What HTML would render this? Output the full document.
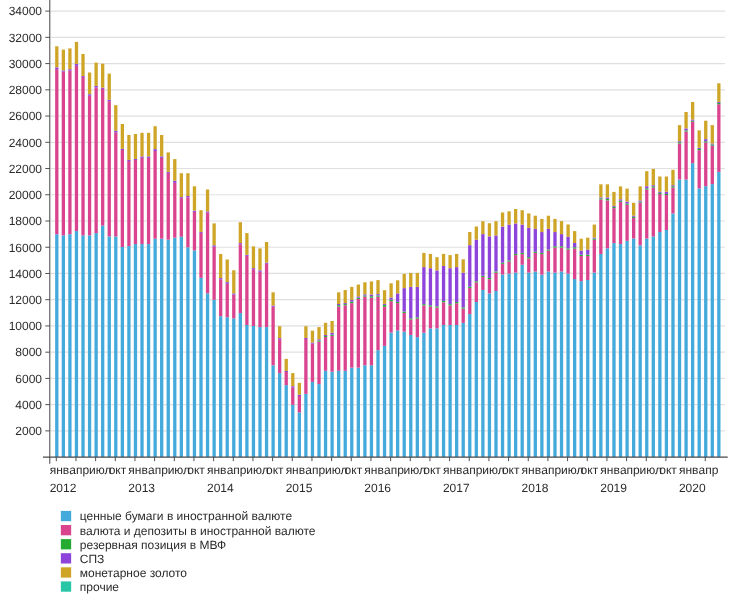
<!DOCTYPE html>
<html lang="ru"><head><meta charset="utf-8"><title>chart</title>
<style>
html,body{margin:0;padding:0;background:#fff;}
body{width:740px;height:604px;overflow:hidden;font-family:"Liberation Sans",sans-serif;}
svg{display:block;}
text{text-rendering:geometricPrecision;font-family:"Liberation Sans",sans-serif;font-size:12px;fill:#2b2b2b;}
</style></head><body>
<svg width="740" height="604" viewBox="0 0 740 604">
<rect width="740" height="604" fill="#fff"/>

<g stroke="#e0e0e0" stroke-width="1.2">
<line x1="50.5" x2="725" y1="430.88" y2="430.88"/>
<line x1="50.5" x2="725" y1="404.65" y2="404.65"/>
<line x1="50.5" x2="725" y1="378.41" y2="378.41"/>
<line x1="50.5" x2="725" y1="352.18" y2="352.18"/>
<line x1="50.5" x2="725" y1="325.94" y2="325.94"/>
<line x1="50.5" x2="725" y1="299.70" y2="299.70"/>
<line x1="50.5" x2="725" y1="273.47" y2="273.47"/>
<line x1="50.5" x2="725" y1="247.23" y2="247.23"/>
<line x1="50.5" x2="725" y1="221.00" y2="221.00"/>
<line x1="50.5" x2="725" y1="194.76" y2="194.76"/>
<line x1="50.5" x2="725" y1="168.52" y2="168.52"/>
<line x1="50.5" x2="725" y1="142.29" y2="142.29"/>
<line x1="50.5" x2="725" y1="116.05" y2="116.05"/>
<line x1="50.5" x2="725" y1="89.82" y2="89.82"/>
<line x1="50.5" x2="725" y1="63.58" y2="63.58"/>
<line x1="50.5" x2="725" y1="37.34" y2="37.34"/>
<line x1="50.5" x2="725" y1="11.11" y2="11.11"/>
</g>
<rect x="55.15" y="234.20" width="3.30" height="222.90" fill="#44aadb"/>
<rect x="55.15" y="69.10" width="3.30" height="165.10" fill="#da448e"/>
<rect x="55.15" y="67.35" width="3.30" height="1.75" fill="#8e44db"/>
<rect x="55.15" y="46.30" width="3.30" height="21.05" fill="#cfa528"/>
<rect x="61.70" y="235.40" width="3.30" height="221.70" fill="#44aadb"/>
<rect x="61.70" y="71.70" width="3.30" height="163.70" fill="#da448e"/>
<rect x="61.70" y="70.40" width="3.30" height="1.30" fill="#8e44db"/>
<rect x="61.70" y="49.60" width="3.30" height="20.80" fill="#cfa528"/>
<rect x="68.26" y="234.20" width="3.30" height="222.90" fill="#44aadb"/>
<rect x="68.26" y="70.70" width="3.30" height="163.50" fill="#da448e"/>
<rect x="68.26" y="69.20" width="3.30" height="1.50" fill="#8e44db"/>
<rect x="68.26" y="48.40" width="3.30" height="20.80" fill="#cfa528"/>
<rect x="74.81" y="231.10" width="3.30" height="226.00" fill="#44aadb"/>
<rect x="74.81" y="65.80" width="3.30" height="165.30" fill="#da448e"/>
<rect x="74.81" y="63.90" width="3.30" height="1.90" fill="#8e44db"/>
<rect x="74.81" y="41.90" width="3.30" height="22.00" fill="#cfa528"/>
<rect x="81.37" y="235.40" width="3.30" height="221.70" fill="#44aadb"/>
<rect x="81.37" y="76.90" width="3.30" height="158.50" fill="#da448e"/>
<rect x="81.37" y="76.00" width="3.30" height="0.90" fill="#8e44db"/>
<rect x="81.37" y="54.00" width="3.30" height="22.00" fill="#cfa528"/>
<rect x="87.92" y="235.40" width="3.30" height="221.70" fill="#44aadb"/>
<rect x="87.92" y="95.80" width="3.30" height="139.60" fill="#da448e"/>
<rect x="87.92" y="94.20" width="3.30" height="1.60" fill="#8e44db"/>
<rect x="87.92" y="72.50" width="3.30" height="21.70" fill="#cfa528"/>
<rect x="94.48" y="233.10" width="3.30" height="224.00" fill="#44aadb"/>
<rect x="94.48" y="87.60" width="3.30" height="145.50" fill="#da448e"/>
<rect x="94.48" y="85.90" width="3.30" height="1.70" fill="#8e44db"/>
<rect x="94.48" y="62.60" width="3.30" height="23.30" fill="#cfa528"/>
<rect x="101.03" y="225.60" width="3.30" height="231.50" fill="#44aadb"/>
<rect x="101.03" y="88.90" width="3.30" height="136.70" fill="#da448e"/>
<rect x="101.03" y="87.70" width="3.30" height="1.20" fill="#8e44db"/>
<rect x="101.03" y="63.70" width="3.30" height="24.00" fill="#cfa528"/>
<rect x="107.59" y="236.40" width="3.30" height="220.70" fill="#44aadb"/>
<rect x="107.59" y="101.20" width="3.30" height="135.20" fill="#da448e"/>
<rect x="107.59" y="99.80" width="3.30" height="1.40" fill="#8e44db"/>
<rect x="107.59" y="73.60" width="3.30" height="26.20" fill="#cfa528"/>
<rect x="114.14" y="236.40" width="3.30" height="220.70" fill="#44aadb"/>
<rect x="114.14" y="132.60" width="3.30" height="103.80" fill="#da448e"/>
<rect x="114.14" y="130.70" width="3.30" height="1.90" fill="#8e44db"/>
<rect x="114.14" y="105.20" width="3.30" height="25.50" fill="#cfa528"/>
<rect x="120.70" y="247.00" width="3.30" height="210.10" fill="#44aadb"/>
<rect x="120.70" y="150.00" width="3.30" height="97.00" fill="#da448e"/>
<rect x="120.70" y="148.90" width="3.30" height="1.10" fill="#8e44db"/>
<rect x="120.70" y="124.00" width="3.30" height="24.90" fill="#cfa528"/>
<rect x="127.25" y="246.10" width="3.30" height="211.00" fill="#44aadb"/>
<rect x="127.25" y="161.00" width="3.30" height="85.10" fill="#da448e"/>
<rect x="127.25" y="159.90" width="3.30" height="1.10" fill="#8e44db"/>
<rect x="127.25" y="135.00" width="3.30" height="24.90" fill="#cfa528"/>
<rect x="133.81" y="244.10" width="3.30" height="213.00" fill="#44aadb"/>
<rect x="133.81" y="160.00" width="3.30" height="84.10" fill="#da448e"/>
<rect x="133.81" y="158.90" width="3.30" height="1.10" fill="#8e44db"/>
<rect x="133.81" y="134.00" width="3.30" height="24.90" fill="#cfa528"/>
<rect x="140.36" y="244.10" width="3.30" height="213.00" fill="#44aadb"/>
<rect x="140.36" y="157.90" width="3.30" height="86.20" fill="#da448e"/>
<rect x="140.36" y="156.40" width="3.30" height="1.50" fill="#8e44db"/>
<rect x="140.36" y="132.80" width="3.30" height="23.60" fill="#cfa528"/>
<rect x="146.92" y="244.10" width="3.30" height="213.00" fill="#44aadb"/>
<rect x="146.92" y="157.90" width="3.30" height="86.20" fill="#da448e"/>
<rect x="146.92" y="156.40" width="3.30" height="1.50" fill="#8e44db"/>
<rect x="146.92" y="132.80" width="3.30" height="23.60" fill="#cfa528"/>
<rect x="153.47" y="238.70" width="3.30" height="218.40" fill="#44aadb"/>
<rect x="153.47" y="151.00" width="3.30" height="87.70" fill="#da448e"/>
<rect x="153.47" y="149.10" width="3.30" height="1.90" fill="#8e44db"/>
<rect x="153.47" y="126.20" width="3.30" height="22.90" fill="#cfa528"/>
<rect x="160.03" y="238.70" width="3.30" height="218.40" fill="#44aadb"/>
<rect x="160.03" y="157.90" width="3.30" height="80.80" fill="#da448e"/>
<rect x="160.03" y="156.40" width="3.30" height="1.50" fill="#8e44db"/>
<rect x="160.03" y="135.00" width="3.30" height="21.40" fill="#cfa528"/>
<rect x="166.59" y="239.70" width="3.30" height="217.40" fill="#44aadb"/>
<rect x="166.59" y="172.90" width="3.30" height="66.80" fill="#da448e"/>
<rect x="166.59" y="171.80" width="3.30" height="1.10" fill="#8e44db"/>
<rect x="166.59" y="152.40" width="3.30" height="19.40" fill="#cfa528"/>
<rect x="173.14" y="237.70" width="3.30" height="219.40" fill="#44aadb"/>
<rect x="173.14" y="182.90" width="3.30" height="54.80" fill="#da448e"/>
<rect x="173.14" y="180.80" width="3.30" height="2.10" fill="#8e44db"/>
<rect x="173.14" y="159.10" width="3.30" height="21.70" fill="#cfa528"/>
<rect x="179.69" y="236.70" width="3.30" height="220.40" fill="#44aadb"/>
<rect x="179.69" y="198.20" width="3.30" height="38.50" fill="#da448e"/>
<rect x="179.69" y="197.10" width="3.30" height="1.10" fill="#8e44db"/>
<rect x="179.69" y="173.20" width="3.30" height="23.90" fill="#cfa528"/>
<rect x="186.25" y="247.30" width="3.30" height="209.80" fill="#44aadb"/>
<rect x="186.25" y="197.30" width="3.30" height="50.00" fill="#da448e"/>
<rect x="186.25" y="196.00" width="3.30" height="1.30" fill="#8e44db"/>
<rect x="186.25" y="173.20" width="3.30" height="22.80" fill="#cfa528"/>
<rect x="192.80" y="250.40" width="3.30" height="206.70" fill="#44aadb"/>
<rect x="192.80" y="211.90" width="3.30" height="38.50" fill="#da448e"/>
<rect x="192.80" y="210.60" width="3.30" height="1.30" fill="#8e44db"/>
<rect x="192.80" y="186.30" width="3.30" height="24.30" fill="#cfa528"/>
<rect x="199.36" y="277.90" width="3.30" height="179.20" fill="#44aadb"/>
<rect x="199.36" y="232.90" width="3.30" height="45.00" fill="#da448e"/>
<rect x="199.36" y="231.90" width="3.30" height="1.00" fill="#8e44db"/>
<rect x="199.36" y="210.20" width="3.30" height="21.70" fill="#cfa528"/>
<rect x="205.91" y="293.40" width="3.30" height="163.70" fill="#44aadb"/>
<rect x="205.91" y="212.65" width="3.30" height="80.75" fill="#da448e"/>
<rect x="205.91" y="211.40" width="3.30" height="1.25" fill="#8e44db"/>
<rect x="205.91" y="189.50" width="3.30" height="21.90" fill="#cfa528"/>
<rect x="212.47" y="299.80" width="3.30" height="157.30" fill="#44aadb"/>
<rect x="212.47" y="246.80" width="3.30" height="53.00" fill="#da448e"/>
<rect x="212.47" y="245.30" width="3.30" height="1.50" fill="#8e44db"/>
<rect x="212.47" y="223.40" width="3.30" height="21.90" fill="#cfa528"/>
<rect x="219.03" y="316.20" width="3.30" height="140.90" fill="#44aadb"/>
<rect x="219.03" y="279.30" width="3.30" height="36.90" fill="#da448e"/>
<rect x="219.03" y="278.10" width="3.30" height="1.20" fill="#8e44db"/>
<rect x="219.03" y="254.00" width="3.30" height="24.10" fill="#cfa528"/>
<rect x="225.58" y="317.25" width="3.30" height="139.85" fill="#44aadb"/>
<rect x="225.58" y="283.80" width="3.30" height="33.45" fill="#da448e"/>
<rect x="225.58" y="282.10" width="3.30" height="1.70" fill="#8e44db"/>
<rect x="225.58" y="259.50" width="3.30" height="22.60" fill="#cfa528"/>
<rect x="232.13" y="318.40" width="3.30" height="138.70" fill="#44aadb"/>
<rect x="232.13" y="294.70" width="3.30" height="23.70" fill="#da448e"/>
<rect x="232.13" y="293.40" width="3.30" height="1.30" fill="#8e44db"/>
<rect x="232.13" y="270.30" width="3.30" height="23.10" fill="#cfa528"/>
<rect x="238.69" y="313.10" width="3.30" height="144.00" fill="#44aadb"/>
<rect x="238.69" y="244.30" width="3.30" height="68.80" fill="#da448e"/>
<rect x="238.69" y="243.10" width="3.30" height="1.20" fill="#8e44db"/>
<rect x="238.69" y="222.20" width="3.30" height="20.90" fill="#cfa528"/>
<rect x="245.24" y="325.00" width="3.30" height="132.10" fill="#44aadb"/>
<rect x="245.24" y="255.90" width="3.30" height="69.10" fill="#da448e"/>
<rect x="245.24" y="254.85" width="3.30" height="1.05" fill="#8e44db"/>
<rect x="245.24" y="233.10" width="3.30" height="21.75" fill="#cfa528"/>
<rect x="251.80" y="326.00" width="3.30" height="131.10" fill="#44aadb"/>
<rect x="251.80" y="269.20" width="3.30" height="56.80" fill="#da448e"/>
<rect x="251.80" y="268.10" width="3.30" height="1.10" fill="#8e44db"/>
<rect x="251.80" y="246.40" width="3.30" height="21.70" fill="#cfa528"/>
<rect x="258.36" y="327.10" width="3.30" height="130.00" fill="#44aadb"/>
<rect x="258.36" y="271.80" width="3.30" height="55.30" fill="#da448e"/>
<rect x="258.36" y="270.30" width="3.30" height="1.50" fill="#8e44db"/>
<rect x="258.36" y="248.40" width="3.30" height="21.90" fill="#cfa528"/>
<rect x="264.91" y="327.10" width="3.30" height="130.00" fill="#44aadb"/>
<rect x="264.91" y="263.80" width="3.30" height="63.30" fill="#da448e"/>
<rect x="264.91" y="262.60" width="3.30" height="1.20" fill="#8e44db"/>
<rect x="264.91" y="242.00" width="3.30" height="20.60" fill="#cfa528"/>
<rect x="271.47" y="365.35" width="3.30" height="91.75" fill="#44aadb"/>
<rect x="271.47" y="306.80" width="3.30" height="58.55" fill="#da448e"/>
<rect x="271.47" y="305.60" width="3.30" height="1.20" fill="#8e44db"/>
<rect x="271.47" y="292.30" width="3.30" height="13.30" fill="#cfa528"/>
<rect x="278.02" y="373.10" width="3.30" height="84.00" fill="#44aadb"/>
<rect x="278.02" y="339.30" width="3.30" height="33.80" fill="#da448e"/>
<rect x="278.02" y="338.10" width="3.30" height="1.20" fill="#8e44db"/>
<rect x="278.02" y="326.20" width="3.30" height="11.90" fill="#cfa528"/>
<rect x="284.57" y="385.15" width="3.30" height="71.95" fill="#44aadb"/>
<rect x="284.57" y="372.00" width="3.30" height="13.15" fill="#da448e"/>
<rect x="284.57" y="371.00" width="3.30" height="1.00" fill="#8e44db"/>
<rect x="284.57" y="358.90" width="3.30" height="12.10" fill="#cfa528"/>
<rect x="291.13" y="404.80" width="3.30" height="52.30" fill="#44aadb"/>
<rect x="291.13" y="387.40" width="3.30" height="17.40" fill="#da448e"/>
<rect x="291.13" y="386.20" width="3.30" height="1.20" fill="#8e44db"/>
<rect x="291.13" y="373.10" width="3.30" height="13.10" fill="#cfa528"/>
<rect x="297.69" y="412.40" width="3.30" height="44.70" fill="#44aadb"/>
<rect x="297.69" y="396.00" width="3.30" height="16.40" fill="#da448e"/>
<rect x="297.69" y="394.80" width="3.30" height="1.20" fill="#8e44db"/>
<rect x="297.69" y="382.90" width="3.30" height="11.90" fill="#cfa528"/>
<rect x="304.24" y="393.90" width="3.30" height="63.20" fill="#44aadb"/>
<rect x="304.24" y="339.00" width="3.30" height="54.90" fill="#da448e"/>
<rect x="304.24" y="337.95" width="3.30" height="1.05" fill="#8e44db"/>
<rect x="304.24" y="326.20" width="3.30" height="11.75" fill="#cfa528"/>
<rect x="310.80" y="381.90" width="3.30" height="75.20" fill="#44aadb"/>
<rect x="310.80" y="343.70" width="3.30" height="38.20" fill="#da448e"/>
<rect x="310.80" y="342.50" width="3.30" height="1.20" fill="#8e44db"/>
<rect x="310.80" y="330.65" width="3.30" height="11.85" fill="#cfa528"/>
<rect x="317.35" y="384.10" width="3.30" height="73.00" fill="#44aadb"/>
<rect x="317.35" y="341.60" width="3.30" height="42.50" fill="#da448e"/>
<rect x="317.35" y="340.40" width="3.30" height="1.20" fill="#24ac32"/>
<rect x="317.35" y="339.30" width="3.30" height="1.10" fill="#8e44db"/>
<rect x="317.35" y="327.10" width="3.30" height="12.20" fill="#cfa528"/>
<rect x="323.91" y="370.80" width="3.30" height="86.30" fill="#44aadb"/>
<rect x="323.91" y="337.05" width="3.30" height="33.75" fill="#da448e"/>
<rect x="323.91" y="336.00" width="3.30" height="1.05" fill="#24ac32"/>
<rect x="323.91" y="335.00" width="3.30" height="1.00" fill="#8e44db"/>
<rect x="323.91" y="322.75" width="3.30" height="12.25" fill="#cfa528"/>
<rect x="330.46" y="371.70" width="3.30" height="85.40" fill="#44aadb"/>
<rect x="330.46" y="335.90" width="3.30" height="35.80" fill="#da448e"/>
<rect x="330.46" y="334.70" width="3.30" height="1.20" fill="#24ac32"/>
<rect x="330.46" y="332.70" width="3.30" height="2.00" fill="#8e44db"/>
<rect x="330.46" y="321.00" width="3.30" height="11.70" fill="#cfa528"/>
<rect x="337.02" y="370.80" width="3.30" height="86.30" fill="#44aadb"/>
<rect x="337.02" y="306.60" width="3.30" height="64.20" fill="#da448e"/>
<rect x="337.02" y="305.20" width="3.30" height="1.40" fill="#24ac32"/>
<rect x="337.02" y="304.00" width="3.30" height="1.20" fill="#8e44db"/>
<rect x="337.02" y="292.30" width="3.30" height="11.70" fill="#cfa528"/>
<rect x="343.57" y="370.80" width="3.30" height="86.30" fill="#44aadb"/>
<rect x="343.57" y="305.30" width="3.30" height="65.50" fill="#da448e"/>
<rect x="343.57" y="304.10" width="3.30" height="1.20" fill="#24ac32"/>
<rect x="343.57" y="303.05" width="3.30" height="1.05" fill="#8e44db"/>
<rect x="343.57" y="290.05" width="3.30" height="13.00" fill="#cfa528"/>
<rect x="350.12" y="367.65" width="3.30" height="89.45" fill="#44aadb"/>
<rect x="350.12" y="303.15" width="3.30" height="64.50" fill="#da448e"/>
<rect x="350.12" y="301.70" width="3.30" height="1.45" fill="#24ac32"/>
<rect x="350.12" y="299.90" width="3.30" height="1.80" fill="#8e44db"/>
<rect x="350.12" y="286.90" width="3.30" height="13.00" fill="#cfa528"/>
<rect x="356.68" y="367.65" width="3.30" height="89.45" fill="#44aadb"/>
<rect x="356.68" y="298.90" width="3.30" height="68.75" fill="#da448e"/>
<rect x="356.68" y="297.70" width="3.30" height="1.20" fill="#24ac32"/>
<rect x="356.68" y="296.40" width="3.30" height="1.30" fill="#8e44db"/>
<rect x="356.68" y="284.55" width="3.30" height="11.85" fill="#cfa528"/>
<rect x="363.24" y="365.30" width="3.30" height="91.80" fill="#44aadb"/>
<rect x="363.24" y="296.60" width="3.30" height="68.70" fill="#da448e"/>
<rect x="363.24" y="295.55" width="3.30" height="1.05" fill="#24ac32"/>
<rect x="363.24" y="294.30" width="3.30" height="1.25" fill="#8e44db"/>
<rect x="363.24" y="282.30" width="3.30" height="12.00" fill="#cfa528"/>
<rect x="369.79" y="365.30" width="3.30" height="91.80" fill="#44aadb"/>
<rect x="369.79" y="297.70" width="3.30" height="67.60" fill="#da448e"/>
<rect x="369.79" y="296.20" width="3.30" height="1.50" fill="#24ac32"/>
<rect x="369.79" y="294.50" width="3.30" height="1.70" fill="#8e44db"/>
<rect x="369.79" y="281.40" width="3.30" height="13.10" fill="#cfa528"/>
<rect x="376.35" y="350.20" width="3.30" height="106.90" fill="#44aadb"/>
<rect x="376.35" y="296.75" width="3.30" height="53.45" fill="#da448e"/>
<rect x="376.35" y="295.50" width="3.30" height="1.25" fill="#24ac32"/>
<rect x="376.35" y="294.10" width="3.30" height="1.40" fill="#8e44db"/>
<rect x="376.35" y="280.10" width="3.30" height="14.00" fill="#cfa528"/>
<rect x="382.90" y="345.90" width="3.30" height="111.20" fill="#44aadb"/>
<rect x="382.90" y="306.70" width="3.30" height="39.20" fill="#da448e"/>
<rect x="382.90" y="304.90" width="3.30" height="1.80" fill="#24ac32"/>
<rect x="382.90" y="303.90" width="3.30" height="1.00" fill="#8e44db"/>
<rect x="382.90" y="290.20" width="3.30" height="13.70" fill="#cfa528"/>
<rect x="389.46" y="332.55" width="3.30" height="124.55" fill="#44aadb"/>
<rect x="389.46" y="301.20" width="3.30" height="31.35" fill="#da448e"/>
<rect x="389.46" y="299.70" width="3.30" height="1.50" fill="#24ac32"/>
<rect x="389.46" y="297.50" width="3.30" height="2.20" fill="#8e44db"/>
<rect x="389.46" y="283.30" width="3.30" height="14.20" fill="#cfa528"/>
<rect x="396.01" y="330.50" width="3.30" height="126.60" fill="#44aadb"/>
<rect x="396.01" y="303.10" width="3.30" height="27.40" fill="#da448e"/>
<rect x="396.01" y="301.90" width="3.30" height="1.20" fill="#24ac32"/>
<rect x="396.01" y="293.40" width="3.30" height="8.50" fill="#8e44db"/>
<rect x="396.01" y="280.30" width="3.30" height="13.10" fill="#cfa528"/>
<rect x="402.56" y="331.65" width="3.30" height="125.45" fill="#44aadb"/>
<rect x="402.56" y="313.00" width="3.30" height="18.65" fill="#da448e"/>
<rect x="402.56" y="311.60" width="3.30" height="1.40" fill="#24ac32"/>
<rect x="402.56" y="288.10" width="3.30" height="23.50" fill="#8e44db"/>
<rect x="402.56" y="273.90" width="3.30" height="14.20" fill="#cfa528"/>
<rect x="409.12" y="334.95" width="3.30" height="122.15" fill="#44aadb"/>
<rect x="409.12" y="319.50" width="3.30" height="15.45" fill="#da448e"/>
<rect x="409.12" y="318.30" width="3.30" height="1.20" fill="#24ac32"/>
<rect x="409.12" y="286.90" width="3.30" height="31.40" fill="#8e44db"/>
<rect x="409.12" y="272.90" width="3.30" height="14.00" fill="#cfa528"/>
<rect x="415.68" y="337.20" width="3.30" height="119.90" fill="#44aadb"/>
<rect x="415.68" y="318.60" width="3.30" height="18.60" fill="#da448e"/>
<rect x="415.68" y="317.30" width="3.30" height="1.30" fill="#24ac32"/>
<rect x="415.68" y="286.90" width="3.30" height="30.40" fill="#8e44db"/>
<rect x="415.68" y="272.90" width="3.30" height="14.00" fill="#cfa528"/>
<rect x="422.23" y="332.70" width="3.30" height="124.40" fill="#44aadb"/>
<rect x="422.23" y="305.35" width="3.30" height="27.35" fill="#da448e"/>
<rect x="422.23" y="304.15" width="3.30" height="1.20" fill="#24ac32"/>
<rect x="422.23" y="267.10" width="3.30" height="37.05" fill="#8e44db"/>
<rect x="422.23" y="252.90" width="3.30" height="14.20" fill="#cfa528"/>
<rect x="428.79" y="328.40" width="3.30" height="128.70" fill="#44aadb"/>
<rect x="428.79" y="306.60" width="3.30" height="21.80" fill="#da448e"/>
<rect x="428.79" y="305.30" width="3.30" height="1.30" fill="#24ac32"/>
<rect x="428.79" y="268.20" width="3.30" height="37.10" fill="#8e44db"/>
<rect x="428.79" y="253.90" width="3.30" height="14.30" fill="#cfa528"/>
<rect x="435.34" y="328.35" width="3.30" height="128.75" fill="#44aadb"/>
<rect x="435.34" y="307.55" width="3.30" height="20.80" fill="#da448e"/>
<rect x="435.34" y="306.35" width="3.30" height="1.20" fill="#24ac32"/>
<rect x="435.34" y="270.40" width="3.30" height="35.95" fill="#8e44db"/>
<rect x="435.34" y="257.20" width="3.30" height="13.20" fill="#cfa528"/>
<rect x="441.90" y="325.00" width="3.30" height="132.10" fill="#44aadb"/>
<rect x="441.90" y="302.30" width="3.30" height="22.70" fill="#da448e"/>
<rect x="441.90" y="300.95" width="3.30" height="1.35" fill="#24ac32"/>
<rect x="441.90" y="266.00" width="3.30" height="34.95" fill="#8e44db"/>
<rect x="441.90" y="253.90" width="3.30" height="12.10" fill="#cfa528"/>
<rect x="448.45" y="325.00" width="3.30" height="132.10" fill="#44aadb"/>
<rect x="448.45" y="305.35" width="3.30" height="19.65" fill="#da448e"/>
<rect x="448.45" y="304.15" width="3.30" height="1.20" fill="#24ac32"/>
<rect x="448.45" y="268.20" width="3.30" height="35.95" fill="#8e44db"/>
<rect x="448.45" y="255.10" width="3.30" height="13.10" fill="#cfa528"/>
<rect x="455.00" y="325.00" width="3.30" height="132.10" fill="#44aadb"/>
<rect x="455.00" y="303.20" width="3.30" height="21.80" fill="#da448e"/>
<rect x="455.00" y="302.00" width="3.30" height="1.20" fill="#24ac32"/>
<rect x="455.00" y="267.10" width="3.30" height="34.90" fill="#8e44db"/>
<rect x="455.00" y="253.90" width="3.30" height="13.20" fill="#cfa528"/>
<rect x="461.56" y="322.90" width="3.30" height="134.20" fill="#44aadb"/>
<rect x="461.56" y="308.60" width="3.30" height="14.30" fill="#da448e"/>
<rect x="461.56" y="307.40" width="3.30" height="1.20" fill="#24ac32"/>
<rect x="461.56" y="272.65" width="3.30" height="34.75" fill="#8e44db"/>
<rect x="461.56" y="259.30" width="3.30" height="13.35" fill="#cfa528"/>
<rect x="468.12" y="314.10" width="3.30" height="143.00" fill="#44aadb"/>
<rect x="468.12" y="287.95" width="3.30" height="26.15" fill="#da448e"/>
<rect x="468.12" y="286.75" width="3.30" height="1.20" fill="#24ac32"/>
<rect x="468.12" y="245.15" width="3.30" height="41.60" fill="#8e44db"/>
<rect x="468.12" y="232.00" width="3.30" height="13.15" fill="#cfa528"/>
<rect x="474.67" y="302.00" width="3.30" height="155.10" fill="#44aadb"/>
<rect x="474.67" y="282.40" width="3.30" height="19.60" fill="#da448e"/>
<rect x="474.67" y="281.25" width="3.30" height="1.15" fill="#24ac32"/>
<rect x="474.67" y="239.60" width="3.30" height="41.65" fill="#8e44db"/>
<rect x="474.67" y="226.50" width="3.30" height="13.10" fill="#cfa528"/>
<rect x="481.23" y="289.95" width="3.30" height="167.15" fill="#44aadb"/>
<rect x="481.23" y="276.95" width="3.30" height="13.00" fill="#da448e"/>
<rect x="481.23" y="275.75" width="3.30" height="1.20" fill="#24ac32"/>
<rect x="481.23" y="234.10" width="3.30" height="41.65" fill="#8e44db"/>
<rect x="481.23" y="221.20" width="3.30" height="12.90" fill="#cfa528"/>
<rect x="487.78" y="293.40" width="3.30" height="163.70" fill="#44aadb"/>
<rect x="487.78" y="279.15" width="3.30" height="14.25" fill="#da448e"/>
<rect x="487.78" y="277.95" width="3.30" height="1.20" fill="#24ac32"/>
<rect x="487.78" y="236.40" width="3.30" height="41.55" fill="#8e44db"/>
<rect x="487.78" y="223.20" width="3.30" height="13.20" fill="#cfa528"/>
<rect x="494.34" y="291.00" width="3.30" height="166.10" fill="#44aadb"/>
<rect x="494.34" y="272.70" width="3.30" height="18.30" fill="#da448e"/>
<rect x="494.34" y="271.40" width="3.30" height="1.30" fill="#24ac32"/>
<rect x="494.34" y="235.40" width="3.30" height="36.00" fill="#8e44db"/>
<rect x="494.34" y="221.15" width="3.30" height="14.25" fill="#cfa528"/>
<rect x="500.89" y="274.60" width="3.30" height="182.50" fill="#44aadb"/>
<rect x="500.89" y="263.85" width="3.30" height="10.75" fill="#da448e"/>
<rect x="500.89" y="262.70" width="3.30" height="1.15" fill="#24ac32"/>
<rect x="500.89" y="226.60" width="3.30" height="36.10" fill="#8e44db"/>
<rect x="500.89" y="212.50" width="3.30" height="14.10" fill="#cfa528"/>
<rect x="507.44" y="273.60" width="3.30" height="183.50" fill="#44aadb"/>
<rect x="507.44" y="261.60" width="3.30" height="12.00" fill="#da448e"/>
<rect x="507.44" y="260.40" width="3.30" height="1.20" fill="#24ac32"/>
<rect x="507.44" y="224.50" width="3.30" height="35.90" fill="#8e44db"/>
<rect x="507.44" y="211.30" width="3.30" height="13.20" fill="#cfa528"/>
<rect x="514.00" y="272.60" width="3.30" height="184.50" fill="#44aadb"/>
<rect x="514.00" y="255.10" width="3.30" height="17.50" fill="#da448e"/>
<rect x="514.00" y="253.90" width="3.30" height="1.20" fill="#24ac32"/>
<rect x="514.00" y="223.50" width="3.30" height="30.40" fill="#8e44db"/>
<rect x="514.00" y="209.00" width="3.30" height="14.50" fill="#cfa528"/>
<rect x="520.55" y="264.80" width="3.30" height="192.30" fill="#44aadb"/>
<rect x="520.55" y="254.10" width="3.30" height="10.70" fill="#da448e"/>
<rect x="520.55" y="252.90" width="3.30" height="1.20" fill="#24ac32"/>
<rect x="520.55" y="224.60" width="3.30" height="28.30" fill="#8e44db"/>
<rect x="520.55" y="210.20" width="3.30" height="14.40" fill="#cfa528"/>
<rect x="527.11" y="272.60" width="3.30" height="184.50" fill="#44aadb"/>
<rect x="527.11" y="258.40" width="3.30" height="14.20" fill="#da448e"/>
<rect x="527.11" y="257.10" width="3.30" height="1.30" fill="#24ac32"/>
<rect x="527.11" y="227.90" width="3.30" height="29.20" fill="#8e44db"/>
<rect x="527.11" y="213.40" width="3.30" height="14.50" fill="#cfa528"/>
<rect x="533.66" y="271.50" width="3.30" height="185.60" fill="#44aadb"/>
<rect x="533.66" y="252.90" width="3.30" height="18.60" fill="#da448e"/>
<rect x="533.66" y="251.70" width="3.30" height="1.20" fill="#24ac32"/>
<rect x="533.66" y="228.90" width="3.30" height="22.80" fill="#8e44db"/>
<rect x="533.66" y="215.70" width="3.30" height="13.20" fill="#cfa528"/>
<rect x="540.22" y="274.70" width="3.30" height="182.40" fill="#44aadb"/>
<rect x="540.22" y="254.10" width="3.30" height="20.60" fill="#da448e"/>
<rect x="540.22" y="252.90" width="3.30" height="1.20" fill="#24ac32"/>
<rect x="540.22" y="232.05" width="3.30" height="20.85" fill="#8e44db"/>
<rect x="540.22" y="218.90" width="3.30" height="13.15" fill="#cfa528"/>
<rect x="546.77" y="271.50" width="3.30" height="185.60" fill="#44aadb"/>
<rect x="546.77" y="250.70" width="3.30" height="20.80" fill="#da448e"/>
<rect x="546.77" y="249.50" width="3.30" height="1.20" fill="#24ac32"/>
<rect x="546.77" y="228.90" width="3.30" height="20.60" fill="#8e44db"/>
<rect x="546.77" y="215.70" width="3.30" height="13.20" fill="#cfa528"/>
<rect x="553.33" y="272.60" width="3.30" height="184.50" fill="#44aadb"/>
<rect x="553.33" y="247.55" width="3.30" height="25.05" fill="#da448e"/>
<rect x="553.33" y="246.20" width="3.30" height="1.35" fill="#24ac32"/>
<rect x="553.33" y="232.05" width="3.30" height="14.15" fill="#8e44db"/>
<rect x="553.33" y="218.90" width="3.30" height="13.15" fill="#cfa528"/>
<rect x="559.88" y="271.50" width="3.30" height="185.60" fill="#44aadb"/>
<rect x="559.88" y="247.55" width="3.30" height="23.95" fill="#da448e"/>
<rect x="559.88" y="246.20" width="3.30" height="1.35" fill="#24ac32"/>
<rect x="559.88" y="234.10" width="3.30" height="12.10" fill="#8e44db"/>
<rect x="559.88" y="221.10" width="3.30" height="13.00" fill="#cfa528"/>
<rect x="566.44" y="273.60" width="3.30" height="183.50" fill="#44aadb"/>
<rect x="566.44" y="249.60" width="3.30" height="24.00" fill="#da448e"/>
<rect x="566.44" y="248.40" width="3.30" height="1.20" fill="#24ac32"/>
<rect x="566.44" y="236.70" width="3.30" height="11.70" fill="#8e44db"/>
<rect x="566.44" y="224.45" width="3.30" height="12.25" fill="#cfa528"/>
<rect x="573.00" y="279.05" width="3.30" height="178.05" fill="#44aadb"/>
<rect x="573.00" y="248.60" width="3.30" height="30.45" fill="#da448e"/>
<rect x="573.00" y="247.25" width="3.30" height="1.35" fill="#24ac32"/>
<rect x="573.00" y="243.00" width="3.30" height="4.25" fill="#8e44db"/>
<rect x="573.00" y="231.10" width="3.30" height="11.90" fill="#cfa528"/>
<rect x="579.55" y="281.20" width="3.30" height="175.90" fill="#44aadb"/>
<rect x="579.55" y="256.00" width="3.30" height="25.20" fill="#da448e"/>
<rect x="579.55" y="254.70" width="3.30" height="1.30" fill="#24ac32"/>
<rect x="579.55" y="250.70" width="3.30" height="4.00" fill="#8e44db"/>
<rect x="579.55" y="238.70" width="3.30" height="12.00" fill="#cfa528"/>
<rect x="586.10" y="280.00" width="3.30" height="177.10" fill="#44aadb"/>
<rect x="586.10" y="256.00" width="3.30" height="24.00" fill="#da448e"/>
<rect x="586.10" y="254.70" width="3.30" height="1.30" fill="#24ac32"/>
<rect x="586.10" y="249.60" width="3.30" height="5.10" fill="#8e44db"/>
<rect x="586.10" y="237.70" width="3.30" height="11.90" fill="#cfa528"/>
<rect x="592.66" y="272.60" width="3.30" height="184.50" fill="#44aadb"/>
<rect x="592.66" y="239.80" width="3.30" height="32.80" fill="#da448e"/>
<rect x="592.66" y="238.60" width="3.30" height="1.20" fill="#24ac32"/>
<rect x="592.66" y="237.55" width="3.30" height="1.05" fill="#8e44db"/>
<rect x="592.66" y="224.55" width="3.30" height="13.00" fill="#cfa528"/>
<rect x="599.21" y="254.00" width="3.30" height="203.10" fill="#44aadb"/>
<rect x="599.21" y="199.50" width="3.30" height="54.50" fill="#da448e"/>
<rect x="599.21" y="198.40" width="3.30" height="1.10" fill="#24ac32"/>
<rect x="599.21" y="197.40" width="3.30" height="1.00" fill="#8e44db"/>
<rect x="599.21" y="184.30" width="3.30" height="13.10" fill="#cfa528"/>
<rect x="605.77" y="248.30" width="3.30" height="208.80" fill="#44aadb"/>
<rect x="605.77" y="200.40" width="3.30" height="47.90" fill="#da448e"/>
<rect x="605.77" y="198.90" width="3.30" height="1.50" fill="#24ac32"/>
<rect x="605.77" y="197.40" width="3.30" height="1.50" fill="#8e44db"/>
<rect x="605.77" y="184.30" width="3.30" height="13.10" fill="#cfa528"/>
<rect x="612.32" y="243.10" width="3.30" height="214.00" fill="#44aadb"/>
<rect x="612.32" y="208.10" width="3.30" height="35.00" fill="#da448e"/>
<rect x="612.32" y="206.90" width="3.30" height="1.20" fill="#24ac32"/>
<rect x="612.32" y="205.90" width="3.30" height="1.00" fill="#8e44db"/>
<rect x="612.32" y="191.90" width="3.30" height="14.00" fill="#cfa528"/>
<rect x="618.88" y="244.10" width="3.30" height="213.00" fill="#44aadb"/>
<rect x="618.88" y="201.85" width="3.30" height="42.25" fill="#da448e"/>
<rect x="618.88" y="200.70" width="3.30" height="1.15" fill="#24ac32"/>
<rect x="618.88" y="199.30" width="3.30" height="1.40" fill="#8e44db"/>
<rect x="618.88" y="186.40" width="3.30" height="12.90" fill="#cfa528"/>
<rect x="625.43" y="240.85" width="3.30" height="216.25" fill="#44aadb"/>
<rect x="625.43" y="204.80" width="3.30" height="36.05" fill="#da448e"/>
<rect x="625.43" y="203.60" width="3.30" height="1.20" fill="#24ac32"/>
<rect x="625.43" y="201.60" width="3.30" height="2.00" fill="#8e44db"/>
<rect x="625.43" y="188.60" width="3.30" height="13.00" fill="#cfa528"/>
<rect x="631.99" y="238.60" width="3.30" height="218.50" fill="#44aadb"/>
<rect x="631.99" y="217.90" width="3.30" height="20.70" fill="#da448e"/>
<rect x="631.99" y="216.80" width="3.30" height="1.10" fill="#24ac32"/>
<rect x="631.99" y="215.70" width="3.30" height="1.10" fill="#8e44db"/>
<rect x="631.99" y="202.75" width="3.30" height="12.95" fill="#cfa528"/>
<rect x="638.54" y="245.30" width="3.30" height="211.80" fill="#44aadb"/>
<rect x="638.54" y="202.60" width="3.30" height="42.70" fill="#da448e"/>
<rect x="638.54" y="201.60" width="3.30" height="1.00" fill="#24ac32"/>
<rect x="638.54" y="200.40" width="3.30" height="1.20" fill="#8e44db"/>
<rect x="638.54" y="186.40" width="3.30" height="14.00" fill="#cfa528"/>
<rect x="645.10" y="238.60" width="3.30" height="218.50" fill="#44aadb"/>
<rect x="645.10" y="189.60" width="3.30" height="49.00" fill="#da448e"/>
<rect x="645.10" y="188.40" width="3.30" height="1.20" fill="#24ac32"/>
<rect x="645.10" y="186.20" width="3.30" height="2.20" fill="#8e44db"/>
<rect x="645.10" y="171.20" width="3.30" height="15.00" fill="#cfa528"/>
<rect x="651.65" y="236.45" width="3.30" height="220.65" fill="#44aadb"/>
<rect x="651.65" y="187.40" width="3.30" height="49.05" fill="#da448e"/>
<rect x="651.65" y="186.20" width="3.30" height="1.20" fill="#24ac32"/>
<rect x="651.65" y="185.20" width="3.30" height="1.00" fill="#8e44db"/>
<rect x="651.65" y="168.90" width="3.30" height="16.30" fill="#cfa528"/>
<rect x="658.21" y="232.00" width="3.30" height="225.10" fill="#44aadb"/>
<rect x="658.21" y="194.00" width="3.30" height="38.00" fill="#da448e"/>
<rect x="658.21" y="192.90" width="3.30" height="1.10" fill="#24ac32"/>
<rect x="658.21" y="191.70" width="3.30" height="1.20" fill="#8e44db"/>
<rect x="658.21" y="176.50" width="3.30" height="15.20" fill="#cfa528"/>
<rect x="664.76" y="230.00" width="3.30" height="227.10" fill="#44aadb"/>
<rect x="664.76" y="195.00" width="3.30" height="35.00" fill="#da448e"/>
<rect x="664.76" y="194.00" width="3.30" height="1.00" fill="#24ac32"/>
<rect x="664.76" y="191.70" width="3.30" height="2.30" fill="#8e44db"/>
<rect x="664.76" y="176.50" width="3.30" height="15.20" fill="#cfa528"/>
<rect x="671.32" y="213.50" width="3.30" height="243.60" fill="#44aadb"/>
<rect x="671.32" y="187.40" width="3.30" height="26.10" fill="#da448e"/>
<rect x="671.32" y="186.20" width="3.30" height="1.20" fill="#24ac32"/>
<rect x="671.32" y="185.20" width="3.30" height="1.00" fill="#8e44db"/>
<rect x="671.32" y="169.80" width="3.30" height="15.40" fill="#cfa528"/>
<rect x="677.88" y="179.55" width="3.30" height="277.55" fill="#44aadb"/>
<rect x="677.88" y="143.50" width="3.30" height="36.05" fill="#da448e"/>
<rect x="677.88" y="142.30" width="3.30" height="1.20" fill="#24ac32"/>
<rect x="677.88" y="141.20" width="3.30" height="1.10" fill="#8e44db"/>
<rect x="677.88" y="125.10" width="3.30" height="16.10" fill="#cfa528"/>
<rect x="684.43" y="179.60" width="3.30" height="277.50" fill="#44aadb"/>
<rect x="684.43" y="131.50" width="3.30" height="48.10" fill="#da448e"/>
<rect x="684.43" y="130.35" width="3.30" height="1.15" fill="#24ac32"/>
<rect x="684.43" y="128.40" width="3.30" height="1.95" fill="#8e44db"/>
<rect x="684.43" y="112.00" width="3.30" height="16.40" fill="#cfa528"/>
<rect x="690.98" y="163.20" width="3.30" height="293.90" fill="#44aadb"/>
<rect x="690.98" y="121.70" width="3.30" height="41.50" fill="#da448e"/>
<rect x="690.98" y="120.70" width="3.30" height="1.00" fill="#24ac32"/>
<rect x="690.98" y="119.50" width="3.30" height="1.20" fill="#8e44db"/>
<rect x="690.98" y="102.00" width="3.30" height="17.50" fill="#cfa528"/>
<rect x="697.54" y="188.40" width="3.30" height="268.70" fill="#44aadb"/>
<rect x="697.54" y="150.20" width="3.30" height="38.20" fill="#da448e"/>
<rect x="697.54" y="149.00" width="3.30" height="1.20" fill="#24ac32"/>
<rect x="697.54" y="147.80" width="3.30" height="1.20" fill="#8e44db"/>
<rect x="697.54" y="130.35" width="3.30" height="17.45" fill="#cfa528"/>
<rect x="704.09" y="186.20" width="3.30" height="270.90" fill="#44aadb"/>
<rect x="704.09" y="142.40" width="3.30" height="43.80" fill="#da448e"/>
<rect x="704.09" y="141.20" width="3.30" height="1.20" fill="#24ac32"/>
<rect x="704.09" y="139.10" width="3.30" height="2.10" fill="#8e44db"/>
<rect x="704.09" y="120.70" width="3.30" height="18.40" fill="#cfa528"/>
<rect x="710.65" y="184.10" width="3.30" height="273.00" fill="#44aadb"/>
<rect x="710.65" y="145.70" width="3.30" height="38.40" fill="#da448e"/>
<rect x="710.65" y="144.50" width="3.30" height="1.20" fill="#24ac32"/>
<rect x="710.65" y="143.50" width="3.30" height="1.00" fill="#8e44db"/>
<rect x="710.65" y="125.10" width="3.30" height="18.40" fill="#cfa528"/>
<rect x="717.20" y="171.90" width="3.30" height="285.20" fill="#44aadb"/>
<rect x="717.20" y="104.20" width="3.30" height="67.70" fill="#da448e"/>
<rect x="717.20" y="102.90" width="3.30" height="1.30" fill="#24ac32"/>
<rect x="717.20" y="101.90" width="3.30" height="1.00" fill="#8e44db"/>
<rect x="717.20" y="83.30" width="3.30" height="18.60" fill="#cfa528"/>


<g stroke="#505050" fill="none">
<line x1="49.8" x2="49.8" y1="0" y2="463.8" stroke-width="1" stroke="#444"/>
<line x1="43" x2="727.7" y1="457.15" y2="457.15" stroke-width="1.1" stroke="#484848"/>
<line x1="45.3" x2="50" y1="430.88" y2="430.88" stroke-width="1"/>
<line x1="45.3" x2="50" y1="404.65" y2="404.65" stroke-width="1"/>
<line x1="45.3" x2="50" y1="378.41" y2="378.41" stroke-width="1"/>
<line x1="45.3" x2="50" y1="352.18" y2="352.18" stroke-width="1"/>
<line x1="45.3" x2="50" y1="325.94" y2="325.94" stroke-width="1"/>
<line x1="45.3" x2="50" y1="299.70" y2="299.70" stroke-width="1"/>
<line x1="45.3" x2="50" y1="273.47" y2="273.47" stroke-width="1"/>
<line x1="45.3" x2="50" y1="247.23" y2="247.23" stroke-width="1"/>
<line x1="45.3" x2="50" y1="221.00" y2="221.00" stroke-width="1"/>
<line x1="45.3" x2="50" y1="194.76" y2="194.76" stroke-width="1"/>
<line x1="45.3" x2="50" y1="168.52" y2="168.52" stroke-width="1"/>
<line x1="45.3" x2="50" y1="142.29" y2="142.29" stroke-width="1"/>
<line x1="45.3" x2="50" y1="116.05" y2="116.05" stroke-width="1"/>
<line x1="45.3" x2="50" y1="89.82" y2="89.82" stroke-width="1"/>
<line x1="45.3" x2="50" y1="63.58" y2="63.58" stroke-width="1"/>
<line x1="45.3" x2="50" y1="37.34" y2="37.34" stroke-width="1"/>
<line x1="45.3" x2="50" y1="11.11" y2="11.11" stroke-width="1"/>
<line x1="56.30" x2="56.30" y1="457.1" y2="461.2" stroke-width="1"/>
<line x1="75.97" x2="75.97" y1="457.1" y2="461.2" stroke-width="1"/>
<line x1="95.63" x2="95.63" y1="457.1" y2="461.2" stroke-width="1"/>
<line x1="115.29" x2="115.29" y1="457.1" y2="461.2" stroke-width="1"/>
<line x1="134.96" x2="134.96" y1="457.1" y2="461.2" stroke-width="1"/>
<line x1="154.62" x2="154.62" y1="457.1" y2="461.2" stroke-width="1"/>
<line x1="174.29" x2="174.29" y1="457.1" y2="461.2" stroke-width="1"/>
<line x1="193.95" x2="193.95" y1="457.1" y2="461.2" stroke-width="1"/>
<line x1="213.62" x2="213.62" y1="457.1" y2="461.2" stroke-width="1"/>
<line x1="233.28" x2="233.28" y1="457.1" y2="461.2" stroke-width="1"/>
<line x1="252.95" x2="252.95" y1="457.1" y2="461.2" stroke-width="1"/>
<line x1="272.62" x2="272.62" y1="457.1" y2="461.2" stroke-width="1"/>
<line x1="292.28" x2="292.28" y1="457.1" y2="461.2" stroke-width="1"/>
<line x1="311.94" x2="311.94" y1="457.1" y2="461.2" stroke-width="1"/>
<line x1="331.61" x2="331.61" y1="457.1" y2="461.2" stroke-width="1"/>
<line x1="351.27" x2="351.27" y1="457.1" y2="461.2" stroke-width="1"/>
<line x1="370.94" x2="370.94" y1="457.1" y2="461.2" stroke-width="1"/>
<line x1="390.61" x2="390.61" y1="457.1" y2="461.2" stroke-width="1"/>
<line x1="410.27" x2="410.27" y1="457.1" y2="461.2" stroke-width="1"/>
<line x1="429.94" x2="429.94" y1="457.1" y2="461.2" stroke-width="1"/>
<line x1="449.60" x2="449.60" y1="457.1" y2="461.2" stroke-width="1"/>
<line x1="469.26" x2="469.26" y1="457.1" y2="461.2" stroke-width="1"/>
<line x1="488.93" x2="488.93" y1="457.1" y2="461.2" stroke-width="1"/>
<line x1="508.59" x2="508.59" y1="457.1" y2="461.2" stroke-width="1"/>
<line x1="528.26" x2="528.26" y1="457.1" y2="461.2" stroke-width="1"/>
<line x1="547.92" x2="547.92" y1="457.1" y2="461.2" stroke-width="1"/>
<line x1="567.59" x2="567.59" y1="457.1" y2="461.2" stroke-width="1"/>
<line x1="587.25" x2="587.25" y1="457.1" y2="461.2" stroke-width="1"/>
<line x1="606.92" x2="606.92" y1="457.1" y2="461.2" stroke-width="1"/>
<line x1="626.58" x2="626.58" y1="457.1" y2="461.2" stroke-width="1"/>
<line x1="646.25" x2="646.25" y1="457.1" y2="461.2" stroke-width="1"/>
<line x1="665.91" x2="665.91" y1="457.1" y2="461.2" stroke-width="1"/>
<line x1="685.58" x2="685.58" y1="457.1" y2="461.2" stroke-width="1"/>
<line x1="705.24" x2="705.24" y1="457.1" y2="461.2" stroke-width="1"/>
</g>

<text x="42" y="435.18" text-anchor="end">2000</text>
<text x="42" y="408.95" text-anchor="end">4000</text>
<text x="42" y="382.71" text-anchor="end">6000</text>
<text x="42" y="356.48" text-anchor="end">8000</text>
<text x="42" y="330.24" text-anchor="end">10000</text>
<text x="42" y="304.00" text-anchor="end">12000</text>
<text x="42" y="277.77" text-anchor="end">14000</text>
<text x="42" y="251.53" text-anchor="end">16000</text>
<text x="42" y="225.30" text-anchor="end">18000</text>
<text x="42" y="199.06" text-anchor="end">20000</text>
<text x="42" y="172.82" text-anchor="end">22000</text>
<text x="42" y="146.59" text-anchor="end">24000</text>
<text x="42" y="120.35" text-anchor="end">26000</text>
<text x="42" y="94.12" text-anchor="end">28000</text>
<text x="42" y="67.88" text-anchor="end">30000</text>
<text x="42" y="41.64" text-anchor="end">32000</text>
<text x="42" y="15.41" text-anchor="end">34000</text>
<text x="49.65" y="474.4">янв</text>
<text x="49.65" y="491.5">2012</text>
<text x="69.31" y="474.4">апр</text>
<text x="88.98" y="474.4">июл</text>
<text x="108.64" y="474.4">окт</text>
<text x="128.31" y="474.4">янв</text>
<text x="128.31" y="491.5">2013</text>
<text x="147.97" y="474.4">апр</text>
<text x="167.64" y="474.4">июл</text>
<text x="187.30" y="474.4">окт</text>
<text x="206.97" y="474.4">янв</text>
<text x="206.97" y="491.5">2014</text>
<text x="226.63" y="474.4">апр</text>
<text x="246.30" y="474.4">июл</text>
<text x="265.97" y="474.4">окт</text>
<text x="285.63" y="474.4">янв</text>
<text x="285.63" y="491.5">2015</text>
<text x="305.30" y="474.4">апр</text>
<text x="324.96" y="474.4">июл</text>
<text x="344.62" y="474.4">окт</text>
<text x="364.29" y="474.4">янв</text>
<text x="364.29" y="491.5">2016</text>
<text x="383.96" y="474.4">апр</text>
<text x="403.62" y="474.4">июл</text>
<text x="423.29" y="474.4">окт</text>
<text x="442.95" y="474.4">янв</text>
<text x="442.95" y="491.5">2017</text>
<text x="462.62" y="474.4">апр</text>
<text x="482.28" y="474.4">июл</text>
<text x="501.94" y="474.4">окт</text>
<text x="521.61" y="474.4">янв</text>
<text x="521.61" y="491.5">2018</text>
<text x="541.27" y="474.4">апр</text>
<text x="560.94" y="474.4">июл</text>
<text x="580.60" y="474.4">окт</text>
<text x="600.27" y="474.4">янв</text>
<text x="600.27" y="491.5">2019</text>
<text x="619.93" y="474.4">апр</text>
<text x="639.60" y="474.4">июл</text>
<text x="659.26" y="474.4">окт</text>
<text x="678.93" y="474.4">янв</text>
<text x="678.93" y="491.5">2020</text>
<text x="698.59" y="474.4">апр</text>
<rect x="60.85" y="510.90" width="10.3" height="10.3" fill="#44aadb"/>
<text x="79.8" y="520.40">ценные бумаги в иностранной валюте</text>
<rect x="60.85" y="525.00" width="10.3" height="10.3" fill="#da448e"/>
<text x="79.8" y="534.50">валюта и депозиты в иностранной валюте</text>
<rect x="60.85" y="539.10" width="10.3" height="10.3" fill="#24ac32"/>
<text x="79.8" y="548.60">резервная позиция в МВФ</text>
<rect x="60.85" y="553.20" width="10.3" height="10.3" fill="#8e44db"/>
<text x="79.8" y="562.70">СПЗ</text>
<rect x="60.85" y="567.30" width="10.3" height="10.3" fill="#cfa528"/>
<text x="79.8" y="576.80">монетарное золото</text>
<rect x="60.85" y="581.40" width="10.3" height="10.3" fill="#26c6a7"/>
<text x="79.8" y="590.90">прочие</text>
</svg></body></html>
